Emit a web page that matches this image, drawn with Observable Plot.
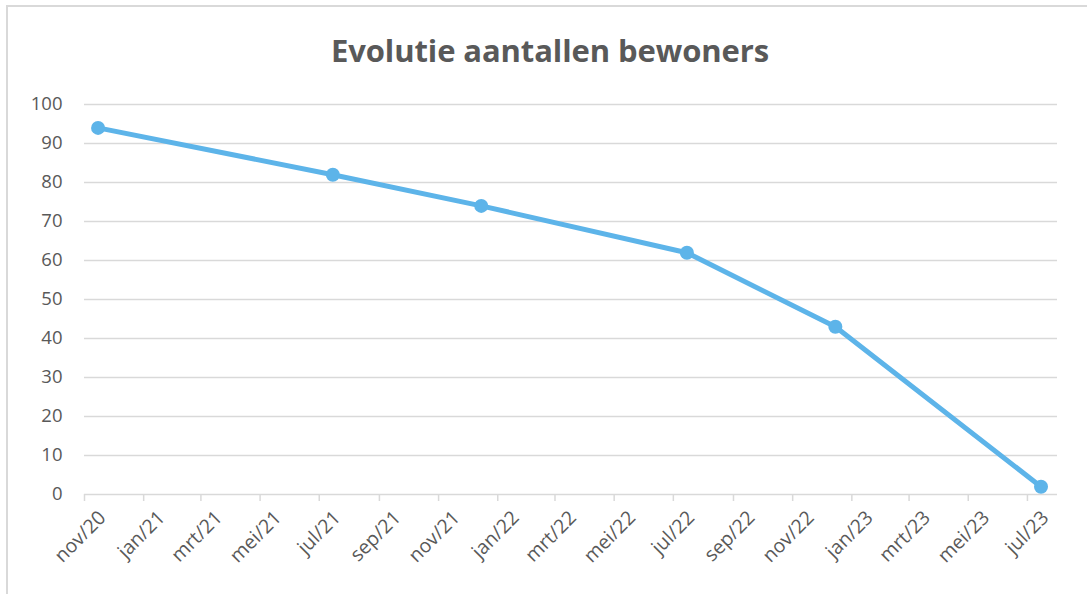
<!DOCTYPE html>
<html>
<head>
<meta charset="utf-8">
<script src="https://cdn.jsdelivr.net/npm/d3@7"></script>
<script src="https://cdn.jsdelivr.net/npm/@observablehq/plot@0.6"></script>
<style>
  html, body { margin: 0; padding: 0; background: #fff; }
  #wrap { position: relative; width: 1087px; height: 594px; overflow: hidden; font-family: "Open Sans", sans-serif; }
  #frame { position: absolute; left: 6px; top: 5px; width: 1100px; height: 600px; border-top: 2px solid #d9d9d9; border-left: 2px solid #d9d9d9; box-sizing: border-box; }
  #title { position: relative; height: 80px; box-sizing: border-box; padding-top: 29px; padding-left: 13px; text-align: center; font-size: 31px; font-weight: bold; color: #595959; line-height: normal; white-space: nowrap; letter-spacing: -0.1px; }
  #plot { position: relative; }
</style>
</head>
<body>
<div id="wrap">
  <div id="frame"></div>
  <div id="title">Evolutie aantallen bewoners</div>
  <div id="plot"></div>
</div>
<script>
// Data
const dates = ["2020-11-15", "2021-07-15", "2021-12-15", "2022-07-15", "2022-12-15", "2023-07-15"];
const bewoners = [94, 82, 74, 62, 43, 2];
const yTicks = [0, 10, 20, 30, 40, 50, 60, 70, 80, 90, 100];
const maandNamen = ["jan", "feb", "mrt", "apr", "mei", "jun", "jul", "aug", "sep", "okt", "nov", "dec"];
const xStart = "2020-11-01";
const xEnd = "2023-08-01";

const data = dates.map((d, i) => ({ datum: new Date(d + "T00:00:00Z"), aantal: bewoners[i] }));
const x0 = new Date(xStart + "T00:00:00Z");
const x1 = new Date(xEnd + "T00:00:00Z");
const xTicks = d3.utcMonth.every(2).range(x0, x1);
const fmt = d => maandNamen[d.getUTCMonth()] + "/" + String(d.getUTCFullYear() % 100).padStart(2, "0");

const blue = "#5db4e9";
const grey = "#d9d9d9";
const textCol = "#595959";

const chart = Plot.plot({
  width: 1087,
  height: 514,
  marginTop: 24,
  marginBottom: 100,
  marginLeft: 84,
  marginRight: 30,
  style: { fontFamily: "'Open Sans', sans-serif", fontSize: "18px", color: textCol, background: "transparent" },
  x: { type: "utc", domain: [x0, x1] },
  y: { domain: [0, 100] },
  marks: [
    Plot.gridY(yTicks, { stroke: grey, strokeOpacity: 1, strokeWidth: 1.5 }),
    Plot.axisY(yTicks, { tickSize: 0, tickPadding: 22, fontSize: 18.5, fill: textCol, label: null }),
    Plot.axisX(xTicks, { tickSize: 7, stroke: grey, strokeOpacity: 1, strokeWidth: 1.5, text: null, label: null }),
    Plot.axisX(xTicks, { tickSize: 0, tickFormat: fmt, tickRotate: -45, tickPadding: 4, dx: 18, dy: 16, fill: textCol, fontSize: 19.5, label: null }),
    Plot.line(data, { x: "datum", y: "aantal", stroke: blue, strokeWidth: 5, strokeLinejoin: "round" }),
    Plot.dot(data, { x: "datum", y: "aantal", r: 7, fill: blue, stroke: null })
  ]
});
document.getElementById("plot").appendChild(chart);
</script>
</body>
</html>
